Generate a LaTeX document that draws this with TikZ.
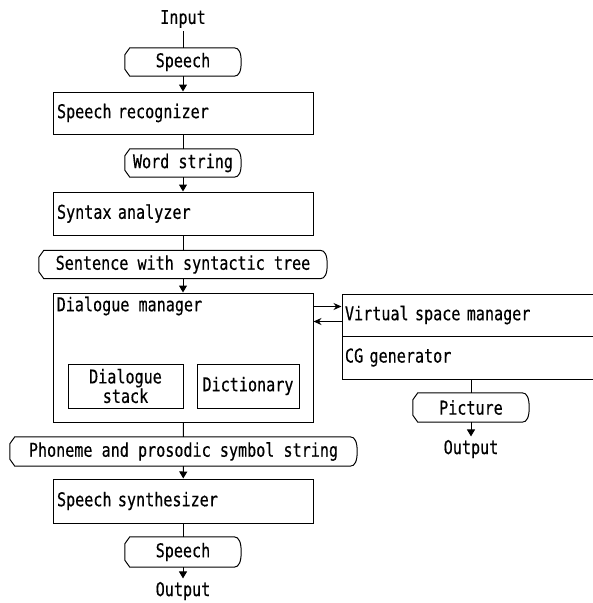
\documentclass[tikz,border=0pt]{standalone}
\usepackage{fontspec}
\usepackage{tikz}
\usetikzlibrary{arrows.meta}
\newfontfamily\diafont{DejaVu Sans Mono}[FakeStretch=0.795, FakeBold=0.4]

\tikzset{
  procbox/.style={draw, line width=1pt, inner xsep=4pt, inner ysep=0pt, align=left, text width=#1},
  procbox/.default=252pt,
  smallbox/.style={draw, line width=1pt, inner sep=0pt, align=center, minimum height=44pt},
  datanode/.style={inner sep=0pt, minimum height=28pt, minimum width=116pt,
    append after command={\pgfextra{\let\dn\tikzlastnode
      \draw[line width=1pt] ([xshift=5pt]\dn.north west) -- ([xshift=-7pt]\dn.north east)
        .. controls +(5pt,0) and +(0,9pt) .. (\dn.east)
        .. controls +(0,-9pt) and +(5pt,0) .. ([xshift=-7pt]\dn.south east)
        -- ([xshift=5pt]\dn.south west) -- ([yshift=7pt]\dn.south west)
        -- ([yshift=-7pt]\dn.north west) -- cycle;}}},
  flow/.style={line width=1pt},
  arr/.style={line width=1pt, -{Triangle[width=8pt,length=7pt]}},
  thinarr/.style={line width=1pt, -{Stealth[width=7pt,length=8pt]}}
}

\begin{document}
\begin{tikzpicture}[x=1pt, y=-1pt, font=\diafont\fontsize{19}{18}\selectfont]
\clip (0,0) rectangle (593,603);
% Main column
\node (input) at (183,19) {Input};
\node[datanode] (speechin) at (183,62) {Speech};
\node[procbox, minimum height=42pt] (recog) at (183,113) {Speech recognizer};
\node[datanode] (words) at (183,163) {Word string};
\node[procbox, minimum height=43pt] (syntax) at (183,213.5) {Syntax analyzer};
\node[datanode, minimum width=288pt] (sentence) at (183,264.5) {Sentence with syntactic tree};
\node[procbox, minimum height=129pt] (dm) at (183,357.5) {};
\node[anchor=north west, inner xsep=4pt, inner ysep=4pt] (dmtext) at (dm.north west) {Dialogue manager};
\node[smallbox, minimum width=115pt] (stack) at (125.5,386) {Dialogue\\stack};
\node[smallbox, minimum width=102pt] (dict) at (248,386) {Dictionary};
\node[datanode, minimum width=347pt, minimum height=29pt] (phon) at (183.5,451.5) {Phoneme and prosodic symbol string};
\node[procbox, minimum height=44pt] (synth) at (183,501) {Speech synthesizer};
\node[datanode, minimum height=30pt] (speechout) at (183,552) {Speech};
\node (outleft) at (183,591) {Output};
% Right column
\node[procbox=272pt, inner xsep=3pt, minimum height=42pt] (vsm) at (481,315) {Virtual space manager};
\node[procbox=272pt, inner xsep=3pt, minimum height=43pt, anchor=north] (cg) at ([yshift=1pt]vsm.south) {CG generator};
\node[datanode, minimum height=29pt] (picture) at (471,407.5) {Picture};
\node (outright) at (471,449) {Output};
% Connectors
\draw[flow] (input) -- (speechin);
\draw[arr] (speechin) -- (recog);
\draw[flow] (recog) -- (words);
\draw[arr] (words) -- (syntax);
\draw[flow] (syntax) -- (sentence);
\draw[arr] (sentence) -- (dm);
\draw[flow] (dm) -- (phon);
\draw[arr] (phon) -- (synth);
\draw[flow] (synth) -- (speechout);
\draw[arr] (speechout) -- (outleft);
\draw[thinarr] ([yshift=-14pt]dm.north east) -- ([yshift=-14pt]dm.north east -| vsm.west);
\draw[thinarr] ([yshift=-29pt]dm.north east -| vsm.west) -- ([yshift=-29pt]dm.north east);
\draw[flow] (cg.south -| picture.north) -- (picture.north);
\draw[arr] (picture) -- (outright);
\end{tikzpicture}
\end{document}
